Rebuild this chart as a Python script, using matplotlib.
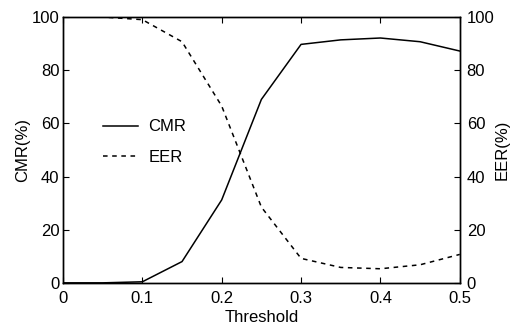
import matplotlib
matplotlib.use("Agg")
import matplotlib.pyplot as plt

plt.rcParams['font.family'] = ['Liberation Sans', 'DejaVu Sans']
plt.rcParams['font.size'] = 12

threshold = [0.0, 0.05, 0.1, 0.15, 0.2, 0.25, 0.3, 0.35, 0.4, 0.45, 0.5]
cmr = [0.0, 0.0, 0.4, 8.0, 31.2, 69.0, 89.7, 91.4, 92.1, 90.7, 87.2]
eer = [100.0, 100.0, 99.0, 90.7, 66.5, 28.5, 9.2, 5.8, 5.3, 6.8, 10.7]

fig = plt.figure(figsize=(5.12, 3.27), dpi=100)
ax = fig.add_axes([0.123, 0.135, 0.775, 0.813])
ax2 = ax.twinx()

l1, = ax.plot(threshold, cmr, 'k-', lw=1.1, label='CMR')
l2, = ax2.plot(threshold, eer, 'k--', lw=1.1, dashes=(3, 3), label='EER')

for a in (ax, ax2):
    a.set_xlim(0, 0.5)
    a.set_ylim(0, 100)
    a.set_yticks([0, 20, 40, 60, 80, 100])
    for s in a.spines.values():
        s.set_linewidth(1.0)

ax.set_xticks([0, 0.1, 0.2, 0.3, 0.4, 0.5])
ax.set_xticklabels(['0', '0.1', '0.2', '0.3', '0.4', '0.5'])
ax.tick_params(direction='in', length=4, top=True)
ax.tick_params(axis='x', pad=6)
ax.tick_params(axis='y', pad=2.5)
ax2.tick_params(direction='in', length=4, pad=5)

ax.set_xlabel('Threshold', labelpad=3)
ax.set_ylabel('CMR(%)', labelpad=1)
ax2.set_ylabel('EER(%)', labelpad=0)

ax.legend(handles=[l1, l2], loc='upper left', bbox_to_anchor=(0.085, 0.64),
          frameon=False, handlelength=2.1, handletextpad=0.6,
          labelspacing=0.95, fontsize=12, borderaxespad=0)

fig.savefig('out.png', dpi=100)
